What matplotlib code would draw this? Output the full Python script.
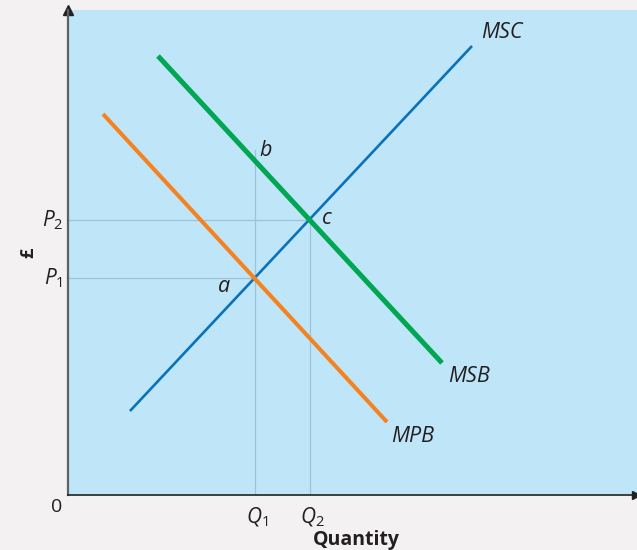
import matplotlib
matplotlib.use("Agg")
import matplotlib.pyplot as plt

plt.rcParams['font.family'] = ['Open Sans', 'DejaVu Sans']
plt.rcParams['mathtext.fontset'] = 'custom'
plt.rcParams['mathtext.rm'] = 'Open Sans'
plt.rcParams['mathtext.it'] = 'Open Sans:italic'

# curve end points (quantity, price)
msc_q = [6.2, 40.4]
msc_p = [8.4, 44.9]
mpb_q = [3.5, 31.9]
mpb_p = [38.1, 7.3]
msb_q = [9.0, 37.4]
msb_p = [43.9, 13.2]

# equilibrium points
q1, p1 = 18.7, 21.7
q2, p2 = 24.2, 27.5
b_price = 34.5

fig = plt.figure(figsize=(6.37, 5.5), dpi=100, facecolor='#f3f1f1')
ax = fig.add_axes([68/637, 55/550, 569/637, 485/550])
ax.set_facecolor('#bfe6f8')
ax.set_xlim(0, 56.9)
ax.set_ylim(0, 48.5)

guide = '#9cc3d8'
ax.plot([0, q2], [p2, p2], color=guide, lw=0.9)
ax.plot([0, q1], [p1, p1], color=guide, lw=0.9)
ax.plot([q1, q1], [0, b_price], color=guide, lw=0.9)
ax.plot([q2, q2], [0, p2], color=guide, lw=0.9)

ax.plot(msc_q, msc_p, color='#0a72ba', lw=1.9, solid_capstyle='butt')
ax.plot(mpb_q, mpb_p, color='#f58220', lw=2.9, solid_capstyle='butt')
ax.plot(msb_q, msb_p, color='#00a651', lw=3.6, solid_capstyle='butt')

for s in ['top', 'right']:
    ax.spines[s].set_visible(False)
ax.spines['left'].set_color('#5d6166')
ax.spines['left'].set_linewidth(1.6)
ax.spines['bottom'].set_color('#222222')
ax.spines['bottom'].set_linewidth(1.2)
ax.set_xticks([])
ax.set_yticks([])
ax.plot(0, 1, '^', color='#222222', ms=7, transform=ax.transAxes, clip_on=False)
ax.plot(0.998, 0, '>', color='#222222', ms=6, transform=ax.transAxes, clip_on=False)

fs = 15.5
ax.text(41.3, 46.3, 'MSC', style='italic', fontsize=fs, ha='left', va='center', color='#231f20')
ax.text(38.0, 11.8, 'MSB', style='italic', fontsize=fs, ha='left', va='center', color='#231f20')
ax.text(32.3, 5.8, 'MPB', style='italic', fontsize=fs, ha='left', va='center', color='#231f20')
ax.text(15.6, 20.8, 'a', style='italic', fontsize=fs, ha='center', va='center', color='#231f20')
ax.text(19.8, 34.4, 'b', style='italic', fontsize=fs, ha='center', va='center', color='#231f20')
ax.text(25.9, 27.6, 'c', style='italic', fontsize=fs, ha='center', va='center', color='#231f20')

ax.text(-0.5, p2, r'$P_{\mathrm{2}}$', fontsize=15, ha='right', va='center', color='#231f20', clip_on=False)
ax.text(-0.5, p1, r'$P_{\mathrm{1}}$', fontsize=15, ha='right', va='center', color='#231f20', clip_on=False)
ax.text(q1 + 0.2, -2.2, r'$Q_{\mathrm{1}}$', fontsize=15, ha='center', va='center', color='#231f20', clip_on=False)
ax.text(q2 + 0.2, -2.2, r'$Q_{\mathrm{2}}$', fontsize=15, ha='center', va='center', color='#231f20', clip_on=False)
ax.text(-0.6, -1.2, '0', fontsize=14, ha='right', va='center', color='#231f20', clip_on=False)
ax.text(28.8, -4.5, 'Quantity', fontsize=14, fontweight='bold', ha='center', va='center', color='#231f20', clip_on=False)
ax.text(-4.0, 24.2, '£', fontsize=13, fontweight='bold', rotation=90, ha='center', va='center', color='#231f20', clip_on=False)

fig.savefig('out.png', dpi=100, facecolor=fig.get_facecolor())
